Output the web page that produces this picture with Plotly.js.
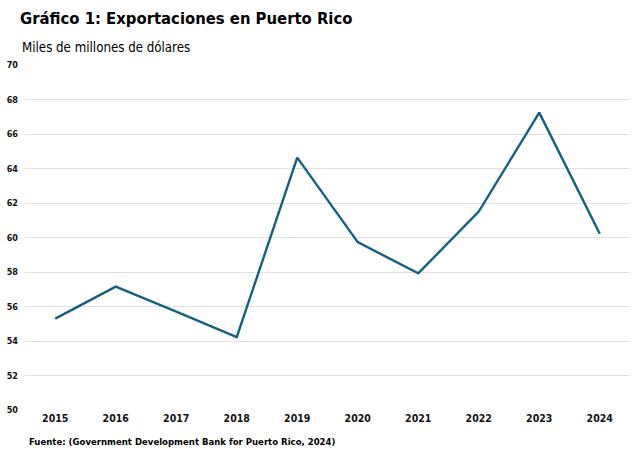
<!DOCTYPE html>
<html>
<head>
<meta charset="utf-8">
<script src="https://cdn.plot.ly/plotly-3.0.1.min.js"></script>
<style>html,body{margin:0;padding:0;background:#fff;}#chart{width:642px;height:466px;}</style>
</head>
<body>
<div id="chart"></div>
<script>
const years = ['2015','2016','2017','2018','2019','2020','2021','2022','2023','2024'];
const exportsValues = [55.3, 57.15, 55.7, 54.22, 64.63, 59.73, 57.92, 61.5, 67.24, 60.22];
const yTicks = [50, 52, 54, 56, 58, 60, 62, 64, 66, 68, 70];

const fontFam = '"DejaVu Sans Condensed", Roboto, "Liberation Sans", sans-serif';

const trace = {
  x: years,
  y: exportsValues,
  type: 'scatter',
  mode: 'lines',
  line: {color: '#156082', width: 2.4},
  hoverinfo: 'skip'
};

const layout = {
  width: 642,
  height: 466,
  margin: {l: 25, r: 12, t: 65, b: 56},
  paper_bgcolor: '#ffffff',
  plot_bgcolor: '#ffffff',
  showlegend: false,
  title: {
    text: '<b>Gráfico 1: Exportaciones en Puerto Rico</b>',
    font: {family: fontFam, size: 16.5, color: '#000000'},
    xref: 'container', yref: 'container',
    x: 20/642, xanchor: 'left',
    y: 1 - 18/466, yanchor: 'middle'
  },
  xaxis: {
    type: 'category',
    tickvals: years,
    ticktext: years.map(y => '<b>' + y + '</b>'),
    showgrid: false,
    zeroline: false,
    showline: false,
    ticks: '',
    tickfont: {family: fontFam, size: 10.5, color: '#111111'},
    range: [-0.5, 9.5]
  },
  yaxis: {
    range: [50, 70],
    tickvals: yTicks,
    ticktext: yTicks.map(v => '<b>' + v + '</b>'),
    showgrid: true,
    gridcolor: '#e0e0e0',
    gridwidth: 1,
    zeroline: false,
    showline: false,
    ticks: '',
    ticklabelstandoff: 6,
    tickfont: {family: fontFam, size: 9, color: '#111111'}
  },
  annotations: [
    {
      text: 'Miles de millones de dólares',
      xref: 'paper', yref: 'paper',
      x: (20 - 25)/605, xanchor: 'left',
      y: (410 - 47)/345, yanchor: 'middle',
      showarrow: false,
      font: {family: fontFam, size: 13.2, color: '#000000'}
    },
    {
      text: '<b>Fuente: (Government Development Bank for Puerto Rico, 2024)</b>',
      xref: 'paper', yref: 'paper',
      x: (27 - 25)/605, xanchor: 'left',
      y: (410 - 441)/345, yanchor: 'middle',
      showarrow: false,
      font: {family: fontFam, size: 9.5, color: '#000000'}
    }
  ]
};

Plotly.newPlot('chart', [trace], layout, {displayModeBar: false, staticPlot: true});
</script>
</body>
</html>
